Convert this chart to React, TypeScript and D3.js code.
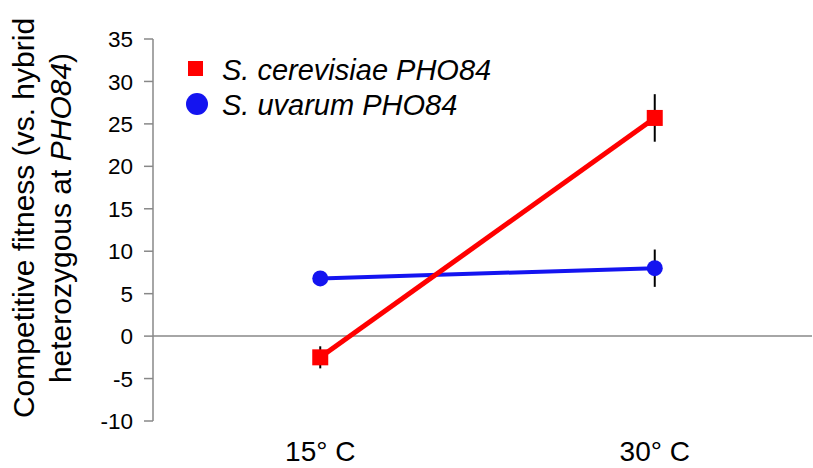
import React from "react";
import * as d3 from "d3";

const categories = ["15° C", "30° C"];
const cerevisiae = [-2.5, 25.7];
const cerevisiaeErr = [1.3, 2.8];
const uvarum = [6.8, 8.0];
const uvarumErr = [0.3, 2.2];
const yTicks = [-10, -5, 0, 5, 10, 15, 20, 25, 30, 35];

const width = 813;
const height = 468;
const font = "Arial, 'Liberation Sans', sans-serif";
const red = "#ff0000";
const blue = "#1414f0";

const x = d3.scalePoint<string>().domain(categories).range([153, 822]).padding(0.5);
const y = d3.scaleLinear().domain([-10, 35]).range([421, 39]);

const App = () => {
  const line = d3
    .line<number>()
    .x((_, i) => x(categories[i]) as number)
    .y((d) => y(d));

  return (
    <svg
      width={width}
      height={height}
      style={{ position: "absolute", left: 0, top: 0, background: "#fff" }}
      fontFamily={font}
    >
      {/* y axis */}
      <line x1={153} x2={153} y1={y(35)} y2={y(-10)} stroke="#888" strokeWidth={1.5} />
      {yTicks.map((t) => (
        <g key={t}>
          <line x1={144} x2={153} y1={y(t)} y2={y(t)} stroke="#888" strokeWidth={1.5} />
          <text x={133} y={y(t)} dy="0.36em" textAnchor="end" fontSize={22.5} fill="#000">
            {t}
          </text>
        </g>
      ))}
      {/* zero line */}
      <line x1={153} x2={812} y1={y(0)} y2={y(0)} stroke="#888" strokeWidth={1.5} />

      {categories.map((c) => (
        <text key={c} x={x(c)} y={461} textAnchor="middle" fontSize={28} fill="#000">
          {c}
        </text>
      ))}

      {/* y title */}
      <g transform="translate(34,218) rotate(-90)">
        <text textAnchor="middle" fontSize={30} fill="#000">
          Competitive fitness (vs. hybrid
        </text>
        <text y={37} textAnchor="middle" fontSize={30} fill="#000">
          heterozygous at <tspan fontStyle="italic">PHO84</tspan>)
        </text>
      </g>

      {/* error bars */}
      {cerevisiae.map((v, i) => (
        <line
          key={"ce" + i}
          x1={x(categories[i])}
          x2={x(categories[i])}
          y1={y(v + cerevisiaeErr[i])}
          y2={y(v - cerevisiaeErr[i])}
          stroke="#000"
          strokeWidth={2}
        />
      ))}
      {uvarum.map((v, i) => (
        <line
          key={"ue" + i}
          x1={x(categories[i])}
          x2={x(categories[i])}
          y1={y(v + uvarumErr[i])}
          y2={y(v - uvarumErr[i])}
          stroke="#000"
          strokeWidth={2}
        />
      ))}

      {/* series */}
      <path d={line(uvarum) as string} fill="none" stroke={blue} strokeWidth={4} />
      {uvarum.map((v, i) => (
        <circle key={"u" + i} cx={x(categories[i])} cy={y(v)} r={8} fill={blue} />
      ))}
      <path d={line(cerevisiae) as string} fill="none" stroke={red} strokeWidth={5} />
      {cerevisiae.map((v, i) => (
        <rect
          key={"c" + i}
          x={(x(categories[i]) as number) - 8}
          y={y(v) - 8}
          width={16}
          height={16}
          fill={red}
        />
      ))}

      {/* legend */}
      <rect x={188} y={61} width={15} height={15} fill={red} />
      <text x={222} y={80} fontSize={29} fontStyle="italic" fill="#000">
        S. cerevisiae PHO84
      </text>
      <circle cx={197} cy={104} r={11} fill={blue} />
      <text x={222} y={115} fontSize={29} fontStyle="italic" fill="#000">
        S. uvarum PHO84
      </text>
    </svg>
  );
};

export default App;
